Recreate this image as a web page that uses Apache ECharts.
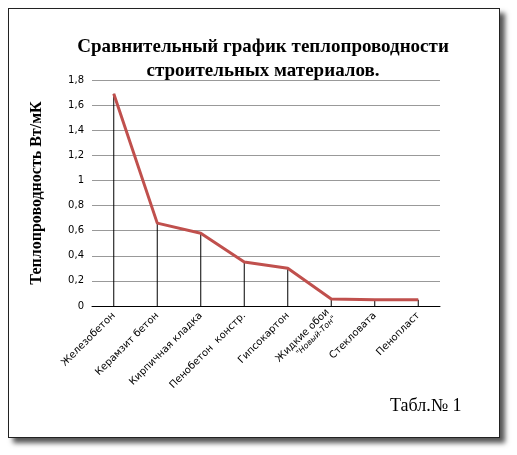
<!DOCTYPE html>
<html><head><meta charset="utf-8">
<script src="https://cdn.jsdelivr.net/npm/echarts@6/dist/echarts.min.js"></script>
<style>html,body{margin:0;padding:0;background:#fff}
#frame{position:absolute;left:8px;top:8px;width:490px;height:428px;border:1px solid #222;box-shadow:5px 5px 5px #555;background:#fff}
#c{position:absolute;left:0;top:0;width:517px;height:455px}</style>
</head><body><div id="frame"></div><div id="c"></div>
<script>
const categories=['Железобетон','Керамзит бетон','Кирпичная кладка','Пенобетон  констр.','Гипсокартон','Жидкие обои\n{s|"Новый-Тон"}','Стекловата','Пенопласт'];
const values=[1.69,0.66,0.58,0.35,0.30,0.055,0.05,0.05];
const yTicks=[0,0.2,0.4,0.6,0.8,1,1.2,1.4,1.6,1.8];
const ch=echarts.init(document.getElementById('c'));
ch.setOption({
 animation:false,
 title:{text:'Сравнительный график теплопроводности\nстроительных материалов.',left:258,top:30,textAlign:'center',
  textStyle:{fontFamily:'Liberation Serif',fontSize:19,fontWeight:'bold',color:'#000',lineHeight:24}},
 graphic:[{type:'text',left:390,top:397,style:{text:'Табл.№ 1',font:'18px Liberation Serif',fill:'#000'}}],
 grid:{left:92,right:77,top:80,bottom:149},
 xAxis:{type:'category',data:categories,boundaryGap:true,
  axisLine:{lineStyle:{color:'#000'}},axisTick:{show:false},
  axisLabel:{rotate:45,fontFamily:'DejaVu Sans',fontSize:10,color:'#000',interval:0,margin:8,lineHeight:10,
   rich:{s:{fontStyle:'italic',fontSize:8,color:'#000'}}}},
 yAxis:{type:'value',min:0,max:1.8,interval:0.2,name:'Теплопроводность Вт/мК',nameLocation:'middle',nameGap:47,
  nameTextStyle:{fontFamily:'Liberation Serif',fontSize:16,fontWeight:'bold',color:'#000'},
  axisLine:{show:false},axisTick:{show:false},splitLine:{lineStyle:{color:'#999'}},
  axisLabel:{fontFamily:'DejaVu Sans',fontSize:10,color:'#000',formatter:v=>String(+v.toFixed(1)).replace('.',',')}},
 series:[
  {type:'bar',data:values,barWidth:1,itemStyle:{color:'#000'},z:1},
  {type:'line',data:values,symbol:'none',lineStyle:{color:'#c0504d',width:3},z:3}
 ]
});
</script></body></html>
